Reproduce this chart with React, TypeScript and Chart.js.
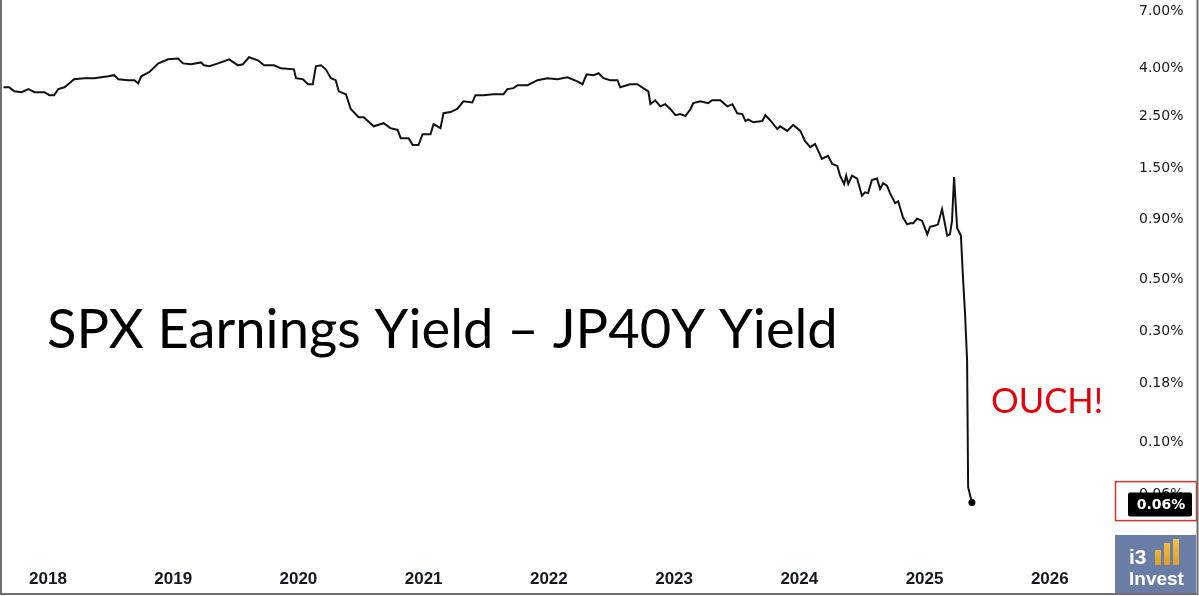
import React, { useEffect, useRef } from "react";
import { Chart, registerables } from "chart.js";

Chart.register(...registerables);

// ---- data ----
const dates: string[] = [
  "2017-08-23", "2017-09-10", "2017-09-25", "2017-10-16", "2017-11-05", "2017-11-23", "2017-12-22",
  "2018-01-05", "2018-01-19", "2018-01-31", "2018-02-18", "2018-03-01", "2018-03-18", "2018-04-17",
  "2018-05-16", "2018-06-26", "2018-07-13", "2018-07-25", "2018-08-23", "2018-09-10", "2018-09-21",
  "2018-09-30", "2018-10-23", "2018-11-19", "2018-12-17",
  "2019-01-15", "2019-01-30", "2019-02-22", "2019-03-23", "2019-04-01", "2019-04-16", "2019-05-12",
  "2019-06-13", "2019-07-09", "2019-07-23", "2019-08-10", "2019-09-05", "2019-09-23", "2019-10-22",
  "2019-11-11", "2019-12-19", "2019-12-25",
  "2020-01-14", "2020-01-29", "2020-02-12", "2020-02-21", "2020-03-07", "2020-03-21", "2020-04-05",
  "2020-04-19", "2020-04-28", "2020-05-19", "2020-06-02", "2020-06-25", "2020-07-10", "2020-08-08",
  "2020-09-06", "2020-09-26", "2020-10-17", "2020-10-26", "2020-11-18", "2020-11-30", "2020-12-17",
  "2020-12-29",
  "2021-01-21", "2021-01-30", "2021-02-19", "2021-02-28", "2021-03-20", "2021-04-09", "2021-04-27",
  "2021-05-23", "2021-06-01", "2021-06-24", "2021-07-23", "2021-08-22", "2021-09-02", "2021-09-20",
  "2021-10-02", "2021-10-31", "2021-11-29", "2021-12-28",
  "2022-01-26", "2022-02-24", "2022-03-25", "2022-04-09", "2022-04-21", "2022-05-11", "2022-05-26",
  "2022-06-09", "2022-06-29", "2022-07-20", "2022-07-28", "2022-08-26", "2022-09-16", "2022-10-03",
  "2022-10-18", "2022-10-24", "2022-11-07", "2022-11-22", "2022-12-06", "2022-12-21",
  "2023-01-05", "2023-01-19", "2023-02-03", "2023-02-18", "2023-02-26", "2023-03-18", "2023-04-10",
  "2023-04-22", "2023-05-16", "2023-06-05", "2023-06-20", "2023-07-04", "2023-07-19", "2023-07-28",
  "2023-08-05", "2023-08-20", "2023-09-15", "2023-09-24", "2023-10-08", "2023-10-29", "2023-11-06",
  "2023-11-27", "2023-12-14",
  "2024-01-04", "2024-01-18", "2024-02-02", "2024-02-16", "2024-03-07", "2024-03-25", "2024-04-06",
  "2024-04-21", "2024-04-29", "2024-05-11", "2024-05-17", "2024-05-23", "2024-06-03", "2024-06-18",
  "2024-07-02", "2024-07-11", "2024-07-20", "2024-07-31", "2024-08-15", "2024-08-24", "2024-09-02",
  "2024-09-13", "2024-09-22", "2024-10-07", "2024-10-16", "2024-10-30", "2024-11-11", "2024-11-20",
  "2024-11-29", "2024-12-10", "2024-12-25",
  "2025-01-09", "2025-01-17", "2025-02-01", "2025-02-09", "2025-02-21", "2025-03-08", "2025-03-16",
  "2025-03-22", "2025-03-28", "2025-04-06", "2025-04-17", "2025-04-23", "2025-04-29", "2025-05-05",
  "2025-05-08", "2025-05-19",
];

const values: number[] = [
  3.32, 3.32, 3.19, 3.16, 3.26, 3.16, 3.16,
  3.07, 3.07, 3.26, 3.32, 3.42, 3.59, 3.63,
  3.63, 3.70, 3.74, 3.59, 3.56, 3.56, 3.45,
  3.70, 3.85, 4.20, 4.37,
  4.41, 4.20, 4.16, 4.24, 4.12, 4.08, 4.20,
  4.37, 4.12, 4.16, 4.46, 4.33, 4.12, 4.12,
  4.00, 3.96, 3.63,
  3.59, 3.42, 3.42, 4.08, 4.12, 3.96, 3.63,
  3.56, 3.19, 3.10, 2.68, 2.47, 2.47, 2.26,
  2.33, 2.22, 2.18, 2.01, 2.01, 1.88, 1.88,
  2.09,
  2.09, 2.31, 2.22, 2.57, 2.60, 2.68, 2.89,
  2.86, 3.07, 3.07, 3.10, 3.10, 3.26, 3.29,
  3.39, 3.39, 3.56, 3.63,
  3.59, 3.66, 3.52, 3.42, 3.77, 3.74, 3.81,
  3.63, 3.56, 3.56, 3.32, 3.42, 3.42, 3.29,
  3.19, 2.81, 2.92, 2.75, 2.81, 2.68,
  2.52, 2.55, 2.50, 2.68, 2.84, 2.89, 2.84,
  2.92, 2.92, 2.75, 2.81, 2.57, 2.55, 2.38,
  2.42, 2.35, 2.38, 2.52, 2.40, 2.20, 2.26,
  2.16, 2.29,
  2.16, 1.95, 1.84, 1.90, 1.64, 1.69, 1.56,
  1.53, 1.39, 1.28, 1.39, 1.28, 1.39, 1.35,
  1.14, 1.18, 1.17, 1.33, 1.35, 1.22, 1.29,
  1.26, 1.17, 1.06, 1.08, 0.92, 0.86, 0.87,
  0.87, 0.91, 0.89,
  0.78, 0.84, 0.85, 0.86, 1.00, 0.77, 0.78,
  0.89, 1.37, 0.83, 0.77, 0.51, 0.357, 0.225,
  0.0646, 0.0555,
];

const yTickValues: number[] = [7, 4, 2.5, 1.5, 0.9, 0.5, 0.3, 0.18, 0.1, 0.06];
const xTickYears: number[] = [2018, 2019, 2020, 2021, 2022, 2023, 2024, 2025, 2026];
const lastValueLabel = "0.06%";
const titleText = "SPX Earnings Yield – JP40Y Yield";
const noteText = "OUCH!";
const logoTop = "i3";
const logoBottom = "Invest";

// ---- helpers ----
function toYear(s: string): number {
  const [y, m, d] = s.split("-").map(Number);
  const start = Date.UTC(y, 0, 1);
  const end = Date.UTC(y + 1, 0, 1);
  return y + (Date.UTC(y, m - 1, d) - start) / (end - start);
}

function fitSize(ctx: CanvasRenderingContext2D, text: string, font: string, target: number): number {
  ctx.font = `100px ${font}`;
  const w = ctx.measureText(text).width;
  return (100 * target) / w;
}

const W = 1199;
const H = 596;

const overlayPlugin = {
  id: "overlay",
  afterDraw(chart: any) {
    const ctx: CanvasRenderingContext2D = chart.ctx;
    ctx.save();

    // Title
    const tSize = fitSize(ctx, titleText, "Lato, 'Open Sans', sans-serif", 791);
    ctx.font = `${tSize}px Lato, 'Open Sans', sans-serif`;
    ctx.fillStyle = "#000000";
    ctx.textAlign = "left";
    ctx.textBaseline = "alphabetic";
    ctx.fillText(titleText, 47, 348);

    // OUCH!
    const oSize = fitSize(ctx, noteText, "Lato, 'Open Sans', sans-serif", 112);
    ctx.font = `${oSize}px Lato, 'Open Sans', sans-serif`;
    ctx.fillStyle = "#e0000b";
    ctx.fillText(noteText, 991, 413);

    // last value tag
    const yScale = chart.scales.y;
    const yPix = yScale.getPixelForValue(values[values.length - 1]) + 2;
    ctx.fillStyle = "#000000";
    const tx = 1128, tw = 64, th = 24;
    ctx.beginPath();
    if ((ctx as any).roundRect) (ctx as any).roundRect(tx, yPix - th / 2, tw, th, 2);
    else ctx.rect(tx, yPix - th / 2, tw, th);
    ctx.fill();
    ctx.fillStyle = "#ffffff";
    ctx.font = "bold 14px 'DejaVu Sans', sans-serif";
    ctx.textAlign = "center";
    ctx.textBaseline = "middle";
    ctx.fillText(lastValueLabel, tx + tw / 2 + 1, yPix + 1);

    // red highlight frame
    ctx.strokeStyle = "#d8302a";
    ctx.lineWidth = 1.5;
    ctx.strokeRect(1115.5, yPix - 23, 81, 39);

    // logo
    ctx.fillStyle = "#6a7da7";
    ctx.fillRect(1115, 535, 81, 58);
    const bars = [
      [1155, 550, 6, 15],
      [1164, 543, 6, 22],
      [1173, 539, 6, 26],
    ];
    const grad = ctx.createLinearGradient(0, 538, 0, 566);
    grad.addColorStop(0, "#f4c64a");
    grad.addColorStop(1, "#d99a2b");
    ctx.fillStyle = grad;
    for (const [bx, by, bw, bh] of bars) ctx.fillRect(bx, by, bw, bh);
    ctx.fillStyle = "#ffffff";
    ctx.textAlign = "left";
    ctx.textBaseline = "alphabetic";
    ctx.font = "bold 21px 'Liberation Sans', Arial, sans-serif";
    ctx.fillText(logoTop, 1129, 564);
    ctx.font = "bold 19px 'Liberation Sans', Arial, sans-serif";
    ctx.fillText(logoBottom, 1129, 585);

    // outer frame (left, bottom, right)
    ctx.strokeStyle = "#6e6e6e";
    ctx.lineWidth = 2;
    ctx.beginPath();
    ctx.moveTo(1, 0);
    ctx.lineTo(1, 594);
    ctx.lineTo(1197.5, 594);
    ctx.lineTo(1197.5, 0);
    ctx.stroke();

    ctx.restore();
  },
};

export default function App() {
  const canvasRef = useRef<HTMLCanvasElement | null>(null);

  useEffect(() => {
    document.body.style.margin = "0";
    const canvas = canvasRef.current;
    if (!canvas) return;

    const points = dates.map((d, i) => ({ x: toYear(d), y: values[i] }));
    const lastIndex = values.length - 1;

    const chart = new Chart(canvas, {
      type: "line",
      data: {
        datasets: [
          {
            data: points,
            borderColor: "#111111",
            borderWidth: 2,
            tension: 0,
            fill: false,
            pointRadius: (c: any) => (c.dataIndex === lastIndex ? 3.5 : 0),
            pointBackgroundColor: "#000000",
            pointBorderWidth: 0,
            pointHoverRadius: 0,
          },
        ],
      },
      options: {
        animation: false,
        responsive: false,
        events: [],
        layout: { padding: { left: 2, top: 2, right: 2, bottom: 2 } },
        plugins: {
          legend: { display: false },
          tooltip: { enabled: false },
        },
        scales: {
          x: {
            type: "linear",
            min: 2017.6451,
            max: 2026.4968,
            grid: { display: false, drawTicks: false },
            border: { display: false },
            afterBuildTicks: (axis: any) => {
              axis.ticks = xTickYears.map((v) => ({ value: v }));
            },
            afterFit: (axis: any) => {
              axis.height = 56;
              axis.paddingLeft = 0;
              axis.paddingRight = 0;
              axis.paddingTop = 0;
              axis.paddingBottom = 0;
            },
            ticks: {
              autoSkip: false,
              maxRotation: 0,
              padding: 31,
              color: "#131722",
              font: { family: "'Liberation Sans', Arial, sans-serif", size: 17, weight: "bold" },
              callback: (v: any) => String(v),
            },
          },
          y: {
            type: "logarithmic",
            position: "right",
            min: 0.03917,
            max: 7.575,
            grid: { display: false, drawTicks: false },
            border: { display: false },
            afterBuildTicks: (axis: any) => {
              axis.ticks = yTickValues.map((v) => ({ value: v }));
            },
            afterFit: (axis: any) => {
              axis.width = 85;
              axis.paddingTop = 0;
              axis.paddingBottom = 0;
              axis.paddingLeft = 0;
              axis.paddingRight = 0;
            },
            ticks: {
              autoSkip: false,
              padding: 27,
              color: "#131722",
              font: { family: "'DejaVu Sans', Verdana, sans-serif", size: 14 },
              callback: (v: any) => Number(v).toFixed(2) + "%",
            },
          },
        },
      },
      plugins: [overlayPlugin],
    } as any);

    return () => chart.destroy();
  }, []);

  return (
    <div style={{ width: W, height: H, position: "relative", background: "#ffffff" }}>
      <canvas ref={canvasRef} width={W} height={H} style={{ display: "block", width: W, height: H }} />
    </div>
  );
}
